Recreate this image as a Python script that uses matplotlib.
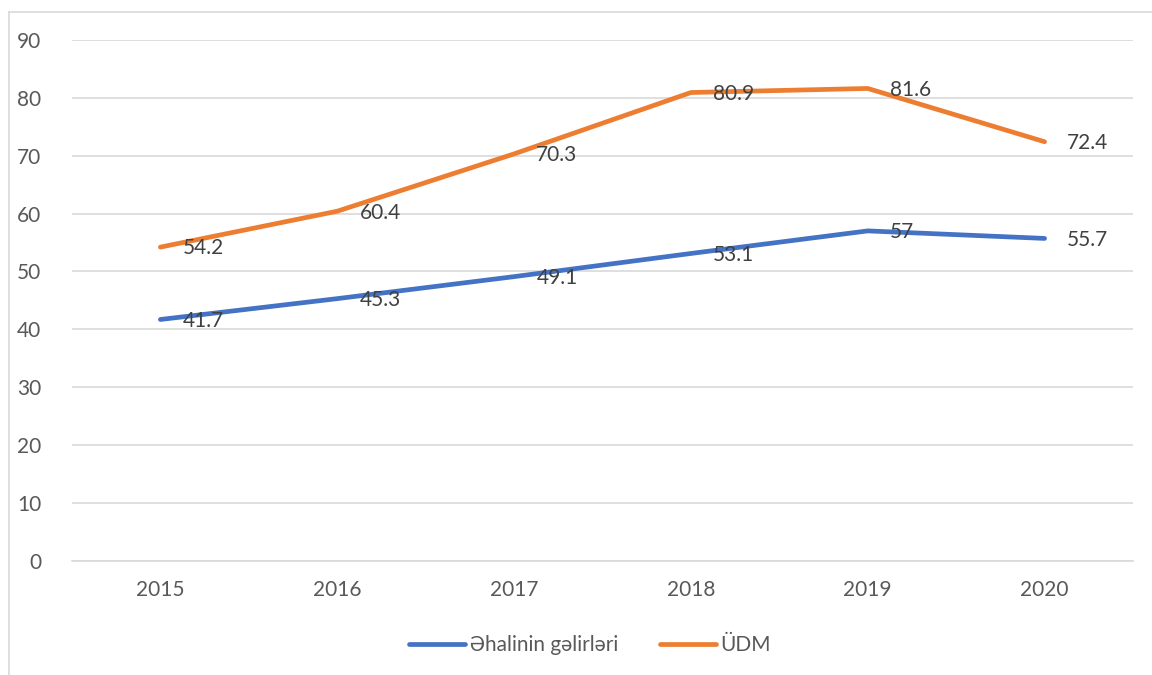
import numpy as np
import matplotlib
matplotlib.use("Agg")
from matplotlib import pyplot as plt
from matplotlib.lines import Line2D

# data
years = ["2015", "2016", "2017", "2018", "2019", "2020"]
income = [41.7, 45.3, 49.1, 53.1, 57, 55.7]
gdp = [54.2, 60.4, 70.3, 80.9, 81.6, 72.4]
income_labels = ["41.7", "45.3", "49.1", "53.1", "57", "55.7"]
gdp_labels = ["54.2", "60.4", "70.3", "80.9", "81.6", "72.4"]

blue = "#4472C4"
orange = "#ED7D31"
grey = "#595959"

plt.rcParams['font.family'] = ['Lato', 'DejaVu Sans']

fig = plt.figure(figsize=(11.52, 6.75), dpi=100)
ax = fig.add_axes([0.0625, 0.169, 0.921, 0.772])

x = np.arange(len(years))
ax.plot(x, income, color=blue, lw=3.4, solid_capstyle='round', zorder=3)
ax.plot(x, gdp, color=orange, lw=3.4, solid_capstyle='round', zorder=3)

# data labels to the right of the points
for xi, v, t in zip(x, income, income_labels):
    ax.annotate(t, (xi, v), xytext=(16, -1), textcoords='offset points',
                va='center', ha='left', fontsize=15, color="#404040", zorder=4)
for xi, v, t in zip(x, gdp, gdp_labels):
    ax.annotate(t, (xi, v), xytext=(16, -1), textcoords='offset points',
                va='center', ha='left', fontsize=15, color="#404040", zorder=4)

ax.set_xlim(-0.5, 5.5)
ax.set_ylim(0, 90)
ax.set_yticks(range(0, 91, 10))
ax.set_xticks(x)
ax.set_xticklabels(years)
ax.grid(axis='y', color="#D9D9D9", lw=1.2)
ax.set_axisbelow(True)
for s in ax.spines.values():
    s.set_visible(False)
ax.tick_params(length=0, labelsize=15, colors=grey, pad=14)
ax.tick_params(axis='y', pad=22)
ax.spines['bottom'].set_visible(True)
ax.spines['bottom'].set_color("#D9D9D9")
ax.spines['bottom'].set_linewidth(1.2)

handles = [Line2D([], [], color=blue, lw=3.4, solid_capstyle='round'),
           Line2D([], [], color=orange, lw=3.4, solid_capstyle='round')]
fig.legend(handles, ["Əhalinin gəlirləri", "ÜDM"], loc='center', bbox_to_anchor=(0.512, 0.044),
           ncol=2, frameon=False, fontsize=15, labelcolor=grey, handlelength=2.7,
           handletextpad=0.2, columnspacing=2.0)

# chart border (left and top visible)
fig.add_artist(Line2D([0.008, 0.008], [0.0, 0.982], color="#D9D9D9", lw=1.2))
fig.add_artist(Line2D([0.008, 1.0], [0.982, 0.982], color="#D9D9D9", lw=1.2))

fig.savefig("out.png", dpi=100)
